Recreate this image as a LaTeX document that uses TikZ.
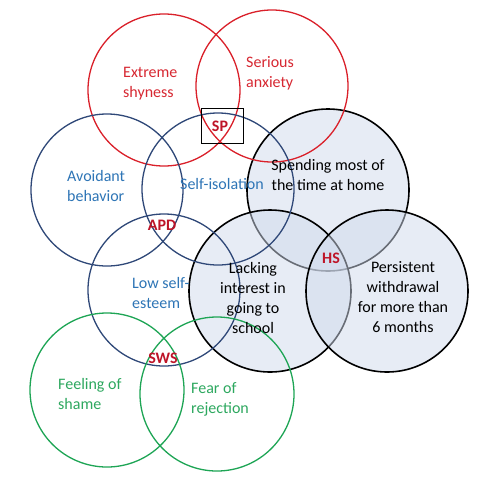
\documentclass[tikz,border=0pt]{standalone}
\usepackage{fontspec}
\setmainfont{Carlito}
\definecolor{cred}{RGB}{218,32,42}
\definecolor{tred}{RGB}{215,40,50}
\definecolor{lbl}{RGB}{190,20,40}
\definecolor{cblue}{RGB}{47,72,120}
\definecolor{tblue}{RGB}{46,117,182}
\definecolor{cgreen}{RGB}{30,165,85}
\definecolor{tgreen}{RGB}{45,168,95}
\definecolor{hfill}{RGB}{209,219,237}
\begin{document}
\begin{tikzpicture}[x=1pt,y=-1pt,
  ring/.style={circle,inner sep=0pt,minimum size=#1},
  redc/.style={ring=152pt,draw=cred,line width=1.3pt},
  bluec/.style={ring=152pt,draw=cblue,line width=1.3pt},
  greenc/.style={ring=154pt,draw=cgreen,line width=1.3pt},
  homec/.style={ring=162pt,draw=black,line width=1.6pt,fill=hfill,fill opacity=0.5,draw opacity=1},
  txt/.style={font=\fontsize{16}{20}\selectfont,inner sep=0pt,align=left,anchor=west},
  ctxt/.style={font=\fontsize{16}{20}\selectfont,inner sep=0pt,align=center},
  lab/.style={font=\fontsize{16}{20}\selectfont\bfseries,inner sep=0pt,text=lbl}]
\useasboundingbox (0,0) rectangle (497,480);
\fill[white] (0,0) rectangle (497,480);
% home circles
\node[homec] (home) at (328,190) {};
\node[homec] (lack) at (270,291) {};
\node[homec] (pers) at (387,291) {};
% red
\node[redc] (shyc) at (164,90) {};
\node[redc] (anxc) at (272,86) {};
% blue
\node[bluec] (avoc) at (107,190) {};
\node[bluec] (isoc) at (218,189) {};
\node[bluec] (lowc) at (164,290) {};
% green
\node[greenc] (shac) at (107,390) {};
\node[greenc] (rejc) at (217,394) {};
% texts
\node[txt,text=tred] (shy) at (123,84) {Extreme\\shyness};
\node[txt,text=tred] (anx) at (246,73.5) {Serious\\anxiety};
\node[lab,draw=black,line width=0.9pt,minimum width=42pt,minimum height=35pt] (sp) at (222,125.5) {};
\node[lab] (spt) at (220,126) {SP};
\node[txt,text=tblue] (avo) at (67,186) {Avoidant\\behavior};
\node[ctxt,text=tblue] (iso) at (222,184) {Self-isolation};
\node[ctxt] (hometxt) at (328,174.5) {Spending most of\\the time at home};
\node[lab] (apd) at (162,225) {APD};
\node[lab] (hs) at (331,258) {HS};
\node[ctxt] (lacktxt) at (253,297.5) {Lacking\\interest in\\going to\\school};
\node[ctxt] (perstxt) at (403,297.5) {Persistent\\withdrawal\\for more than\\6 months};
\node[txt,text=tblue] (low) at (132,293) {Low self-\\esteem};
\node[lab] (sws) at (163,358) {SWS};
\node[txt,text=tgreen] (sha) at (58,393.5) {Feeling of\\shame};
\node[txt,text=tgreen] (rej) at (191,399) {Fear of\\rejection};
\end{tikzpicture}
\end{document}
